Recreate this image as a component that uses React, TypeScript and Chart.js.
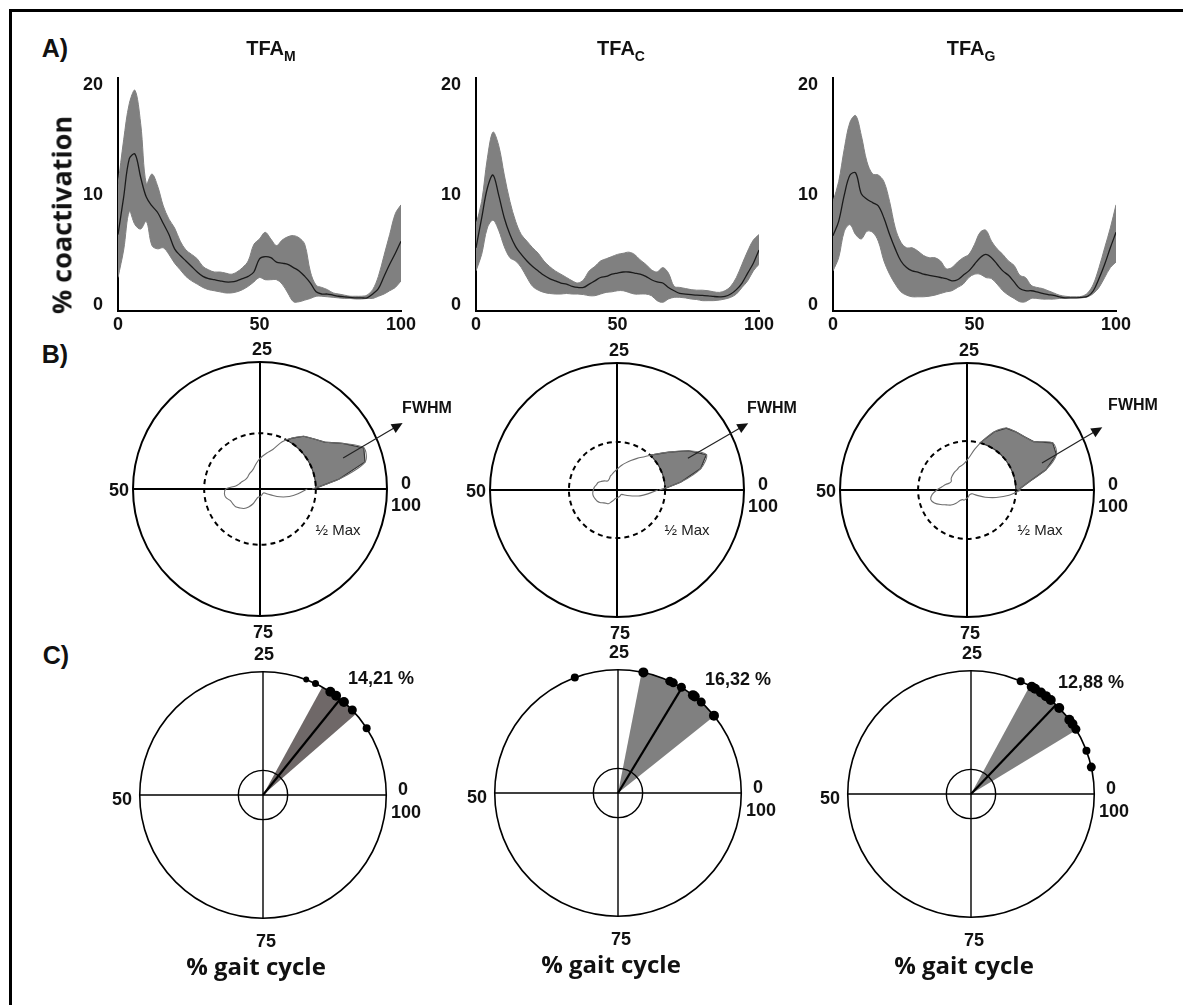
import React, { useEffect, useRef } from "react";
import { Chart, registerables } from "chart.js";

Chart.register(...registerables);

// ---------------- DATA ----------------
// % gait cycle sampling grid
const PCT = [0, 2, 4, 6, 8, 10, 12, 14, 16, 18, 20, 22, 24, 26, 28, 30, 32, 34, 36, 38, 40, 42, 44, 46, 48, 50,
  52, 54, 56, 58, 60, 62, 64, 66, 68, 70, 72, 74, 76, 78, 80, 82, 84, 86, 88, 90, 92, 94, 96, 98, 100];

// TFA_M  (% coactivation)
const MEAN_M = [6.4, 9.8, 13.3, 13.7, 11.6, 9.8, 9.0, 8.4, 7.4, 6.4, 5.1, 4.5, 4.0, 3.5, 3.0, 2.6, 2.4, 2.3, 2.2, 2.1, 2.1,
  2.2, 2.4, 2.6, 3.0, 4.2, 4.4, 4.3, 3.9, 3.8, 3.7, 3.4, 3.1, 2.6, 2.0, 1.2, 1.0, 1.0, 0.9, 0.8, 0.75, 0.7, 0.65, 0.65,
  0.66, 1.0, 1.5, 2.6, 3.7, 4.7, 5.8];
const UPPER_M = [10.9, 15.0, 18.3, 19.5, 16.5, 11.0, 11.9, 10.8, 9.0, 7.8, 7.0, 5.8, 5.0, 4.6, 4.2, 3.5, 3.2, 3.0, 3.0, 2.9,
  2.8, 3.0, 3.4, 4.0, 5.5, 6.0, 6.6, 6.0, 5.4, 5.9, 6.2, 6.3, 6.1, 5.5, 3.0, 1.8, 1.6, 1.4, 1.1, 1.0, 0.9, 0.8, 0.8, 0.8,
  0.9, 1.4, 2.6, 4.5, 6.4, 8.3, 9.1];
const LOWER_M = [2.5, 5.0, 8.5, 7.3, 6.9, 7.6, 5.4, 5.1, 5.2, 4.6, 3.8, 3.2, 2.6, 2.2, 1.9, 1.6, 1.4, 1.3, 1.2, 1.1, 1.1,
  1.2, 1.4, 1.7, 2.1, 2.5, 2.3, 2.3, 2.3, 1.9, 1.1, 0.3, 0.3, 0.45, 0.6, 0.8, 0.8, 0.75, 0.7, 0.65, 0.6, 0.6, 0.55, 0.55,
  0.6, 0.6, 0.8, 1.0, 1.3, 1.6, 2.2];

// TFA_C
const MEAN_C = [5.2, 7.9, 10.6, 11.8, 10.0, 7.9, 6.4, 5.3, 4.6, 4.0, 3.5, 3.1, 2.7, 2.4, 2.2, 2.0, 1.9, 1.7, 1.6, 1.6, 1.9,
  2.2, 2.5, 2.6, 2.8, 2.9, 3.0, 3.0, 2.9, 2.8, 2.6, 2.3, 2.1, 2.0, 1.6, 1.3, 1.05, 1.0, 0.95, 0.9, 0.87, 0.84, 0.78, 0.75,
  0.78, 1.0, 1.4, 2.0, 2.9, 3.8, 5.0];
const UPPER_C = [7.3, 9.4, 13.3, 15.7, 14.5, 11.8, 9.4, 7.6, 6.4, 5.8, 5.2, 4.7, 4.0, 3.5, 3.1, 2.8, 2.5, 2.2, 2.0, 2.3, 3.1,
  3.5, 4.0, 4.2, 4.4, 4.6, 4.7, 4.8, 4.6, 4.1, 3.7, 3.2, 3.0, 3.4, 2.9, 1.7, 1.6, 1.5, 1.4, 1.35, 1.35, 1.3, 1.2, 1.15,
  1.3, 1.7, 2.5, 3.7, 4.9, 5.9, 6.4];
const LOWER_C = [3.1, 4.6, 7.0, 7.7, 6.8, 5.3, 4.3, 4.0, 3.4, 2.5, 1.7, 1.35, 1.15, 1.05, 1.0, 1.0, 1.05, 1.0, 1.0, 0.95,
  0.85, 0.85, 1.0, 1.15, 1.2, 1.3, 1.3, 1.15, 1.0, 1.0, 1.0, 0.85, 0.4, 0.25, 0.55, 0.7, 0.7, 0.65, 0.55, 0.5, 0.4, 0.4,
  0.4, 0.45, 0.55, 0.7, 1.0, 1.6, 2.2, 3.1, 3.7];

// TFA_G
const MEAN_G = [6.3, 7.6, 10.0, 11.8, 12.0, 10.1, 9.6, 9.3, 9.0, 7.9, 6.4, 5.1, 4.0, 3.4, 3.1, 3.0, 2.8, 2.7, 2.6, 2.5, 2.4,
  2.2, 2.3, 2.7, 3.1, 3.7, 4.3, 4.6, 4.3, 3.7, 3.1, 2.7, 2.1, 1.5, 1.3, 1.3, 1.2, 1.05, 0.95, 0.87, 0.75, 0.66, 0.66, 0.66,
  0.7, 0.8, 1.3, 2.4, 3.7, 5.2, 6.6];
const UPPER_G = [9.4, 11.2, 14.2, 16.6, 17.2, 15.4, 13.0, 11.9, 11.8, 11.2, 9.4, 7.0, 5.7, 5.2, 5.2, 4.9, 4.5, 4.3, 4.3, 4.0,
  3.3, 3.4, 3.9, 4.3, 4.6, 5.5, 6.6, 6.8, 5.8, 5.1, 4.6, 4.0, 3.6, 2.7, 2.5, 1.8, 1.6, 1.5, 1.3, 1.1, 0.9, 0.8, 0.75, 0.75,
  0.8, 1.1, 1.9, 3.4, 5.2, 7.0, 9.1];
const LOWER_G = [3.1, 4.3, 6.7, 7.3, 6.4, 6.0, 6.7, 6.6, 5.8, 4.0, 2.8, 1.9, 1.2, 0.9, 0.75, 0.75, 0.75, 0.8, 0.9, 1.05, 1.2,
  1.3, 1.6, 1.9, 2.5, 2.8, 2.8, 2.5, 2.4, 1.9, 1.3, 0.9, 0.6, 0.3, 0.3, 0.6, 0.6, 0.54, 0.54, 0.54, 0.6, 0.6, 0.66, 0.66,
  0.66, 0.75, 1.05, 1.6, 2.5, 3.4, 3.9];

const Y_TICKS = [0, 10, 20];
const X_TICKS = [0, 50, 100];
const PANEL_SUBSCRIPTS = ["M", "C", "G"];
const POLAR_TICK_LABELS = ["25", "50", "75", "0", "100"];

// Row C: mean direction (% gait cycle), its spread, and individual peak timings
const MEAN_DIRECTION = [14.21, 16.32, 12.88];
const MEAN_DIRECTION_LABELS = ["14,21 %", "16,32 %", "12,88 %"];
const SPREAD = [2.8, 5.6, 4.2];
const EVENTS_M = [19.3, 18.0, 15.8, 14.9, 13.6, 12.1, 9.1];
const EVENT_SIZE_M = [3, 3.5, 5, 5, 5, 4.5, 4];
const EVENTS_C = [30.7, 21.7, 18.1, 17.6, 16.4, 14.6, 14.3, 13.2, 10.8];
const EVENT_SIZE_C = [4, 5, 4.5, 4.5, 4.5, 5, 5, 4.5, 5];
const EVENTS_G = [18.4, 16.8, 16.3, 15.4, 14.6, 13.8, 12.3, 10.3, 9.6, 8.8, 5.7, 3.5];
const EVENT_SIZE_G = [4, 5, 5, 5, 5, 5, 5, 5, 5, 4.5, 4, 4.5];

const MEANS = [MEAN_M, MEAN_C, MEAN_G];
const UPPERS = [UPPER_M, UPPER_C, UPPER_G];
const LOWERS = [LOWER_M, LOWER_C, LOWER_G];
const EVENTS = [EVENTS_M, EVENTS_C, EVENTS_G];
const EVENT_SIZES = [EVENT_SIZE_M, EVENT_SIZE_C, EVENT_SIZE_G];

// ---------------- STYLE / LAYOUT ----------------
const ARIAL = "'Liberation Sans', Arial, sans-serif";
const OPEN = "'Open Sans', sans-serif";
const BAND = "#808080";
const WEDGE_COLORS = ["#6f6868", "#808080", "#808080"];

const PLOT_LEFTS = [118, 476, 833];
const PLOT_W = 283;
const PLOT_TOP = 75;
const PLOT_BOTTOM = 311;
const Y_MIN = -0.54;
const Y_MAX = 20.63;
const YW = 48, XH = 30, PT = 15, PR = 25;

const B_CENTERS = [[260, 489], [617, 490], [967, 490]];
const C_CENTERS = [[263, 795], [618, 793], [971, 794]];
const R_PX = 127; // outer circle radius, px
const HALF = 170; // half canvas size for polar panels
const B_PX_PER_UNIT = 8.15;
const B_OUTER = R_PX / B_PX_PER_UNIT;

const ARROWS = [
  { from: [10.2, 3.8], to: [17.5, 8.1] },
  { from: [8.7, 3.9], to: [16.1, 8.2] },
  { from: [9.2, 3.3], to: [16.6, 7.7] },
];

const rad = (p: number) => (p / 100) * 2 * Math.PI;

function halfMaxRegion(mean: number[], h: number) {
  let iMax = 0;
  mean.forEach((v, i) => { if (v > mean[iMax]) iMax = i; });
  let a = iMax, b = iMax;
  while (a > 0 && mean[a - 1] >= h) a--;
  while (b < mean.length - 1 && mean[b + 1] >= h) b++;
  let thS = PCT[a], thE = PCT[b];
  if (a > 0) {
    const t = (h - mean[a - 1]) / (mean[a] - mean[a - 1]);
    thS = PCT[a - 1] + t * (PCT[a] - PCT[a - 1]);
  }
  if (b < mean.length - 1) {
    const t = (mean[b] - h) / (mean[b] - mean[b + 1]);
    thE = PCT[b] + t * (PCT[b + 1] - PCT[b]);
  }
  const pts: [number, number][] = [[thS, h]];
  for (let i = a; i <= b; i++) pts.push([PCT[i], mean[i]]);
  pts.push([thE, h]);
  return { pts, thS, thE };
}

// ---------------- COMPONENTS ----------------
function LinePanel({ idx }: { idx: number }) {
  const ref = useRef<HTMLCanvasElement>(null);
  const W = YW + PLOT_W + PR;
  const H = PT + (PLOT_BOTTOM - PLOT_TOP) + XH;
  useEffect(() => {
    const pts = (arr: number[]) => arr.map((v, i) => ({ x: PCT[i], y: v }));
    const font = { family: ARIAL, size: 18, weight: "bold" as const };
    const chart = new Chart(ref.current!, {
      type: "line",
      data: {
        datasets: [
          { data: pts(UPPERS[idx]), borderColor: BAND, backgroundColor: BAND, borderWidth: 1, fill: "+1", pointRadius: 0, tension: 0.35, order: 2 },
          { data: pts(LOWERS[idx]), borderColor: BAND, backgroundColor: BAND, borderWidth: 1, fill: false, pointRadius: 0, tension: 0.35, order: 1 },
          { data: pts(MEANS[idx]), borderColor: "#1a1a1a", borderWidth: 1.3, fill: false, pointRadius: 0, tension: 0.35, order: 0 },
        ],
      },
      options: {
        animation: false,
        responsive: false,
        events: [],
        layout: { padding: { top: PT, right: PR, left: 0, bottom: 0 } },
        plugins: { legend: { display: false }, tooltip: { enabled: false } },
        scales: {
          x: {
            type: "linear", min: 0, max: 100,
            grid: { display: false },
            border: { display: true, color: "#000", width: 2 },
            ticks: { font, color: "#111", padding: -5, maxRotation: 0, autoSkip: false },
            afterBuildTicks: (s: any) => { s.ticks = X_TICKS.map((v) => ({ value: v })); },
            afterFit: (s: any) => { s.height = XH; },
          },
          y: {
            type: "linear", min: Y_MIN, max: Y_MAX,
            grid: { display: false },
            border: { display: true, color: "#000", width: 2 },
            ticks: { font, color: "#111", padding: 7, autoSkip: false },
            afterBuildTicks: (s: any) => { s.ticks = Y_TICKS.map((v) => ({ value: v })); },
            afterFit: (s: any) => { s.width = YW; },
          },
        },
      } as any,
    });
    return () => chart.destroy();
  }, [idx]);
  return (
    <canvas ref={ref} width={W} height={H}
      style={{ position: "absolute", left: PLOT_LEFTS[idx] - YW, top: PLOT_TOP - PT, width: W, height: H }} />
  );
}

function PolarCurvePanel({ idx }: { idx: number }) {
  const ref = useRef<HTMLCanvasElement>(null);
  const [cx0, cy0] = B_CENTERS[idx];
  useEffect(() => {
    const mean = MEANS[idx];
    const L = HALF / B_PX_PER_UNIT;
    const curve = PCT.map((p, k) => ({ x: mean[k] * Math.cos(rad(p)), y: mean[k] * Math.sin(rad(p)) }));
    const frame = {
      id: "polarFrameB",
      beforeDatasetsDraw(chart: any) {
        const { ctx } = chart;
        const sx = chart.scales.x, sy = chart.scales.y;
        const px = (v: number) => sx.getPixelForValue(v);
        const py = (v: number) => sy.getPixelForValue(v);
        const cx = px(0), cy = py(0);
        const k = px(1) - cx;
        const R = B_OUTER * k;
        ctx.save();
        ctx.strokeStyle = "#000";
        ctx.lineWidth = 2;
        ctx.beginPath(); ctx.arc(cx, cy, R, 0, 2 * Math.PI); ctx.stroke();
        ctx.beginPath();
        ctx.moveTo(cx - R, cy); ctx.lineTo(cx + R, cy);
        ctx.moveTo(cx, cy - R); ctx.lineTo(cx, cy + R);
        ctx.stroke();
        const h = Math.max(...mean) / 2;
        const reg = halfMaxRegion(mean, h);
        ctx.beginPath();
        reg.pts.forEach(([p, r], j) => {
          const X = px(r * Math.cos(rad(p))), Y = py(r * Math.sin(rad(p)));
          if (j === 0) ctx.moveTo(X, Y); else ctx.lineTo(X, Y);
        });
        ctx.arc(cx, cy, h * k, -rad(reg.thE), -rad(reg.thS), false);
        ctx.closePath();
        ctx.fillStyle = BAND;
        ctx.fill();
        ctx.strokeStyle = "#333";
        ctx.lineWidth = 1.2;
        ctx.stroke();
        ctx.setLineDash([5, 4]);
        ctx.lineWidth = 2;
        ctx.strokeStyle = "#000";
        ctx.beginPath(); ctx.arc(cx, cy, h * k, 0, 2 * Math.PI); ctx.stroke();
        ctx.restore();
      },
      afterDatasetsDraw(chart: any) {
        const { ctx } = chart;
        const sx = chart.scales.x, sy = chart.scales.y;
        const a = ARROWS[idx];
        const x0 = sx.getPixelForValue(a.from[0]), y0 = sy.getPixelForValue(a.from[1]);
        const x1 = sx.getPixelForValue(a.to[0]), y1 = sy.getPixelForValue(a.to[1]);
        const ang = Math.atan2(y1 - y0, x1 - x0);
        ctx.save();
        ctx.strokeStyle = "#222"; ctx.fillStyle = "#111"; ctx.lineWidth = 1.2;
        ctx.beginPath(); ctx.moveTo(x0, y0);
        ctx.lineTo(x1 - 8 * Math.cos(ang), y1 - 8 * Math.sin(ang)); ctx.stroke();
        ctx.beginPath();
        ctx.moveTo(x1, y1);
        ctx.lineTo(x1 - 11 * Math.cos(ang) + 5 * Math.sin(ang), y1 - 11 * Math.sin(ang) - 5 * Math.cos(ang));
        ctx.lineTo(x1 - 11 * Math.cos(ang) - 5 * Math.sin(ang), y1 - 11 * Math.sin(ang) + 5 * Math.cos(ang));
        ctx.closePath(); ctx.fill();
        ctx.restore();
      },
    };
    const chart = new Chart(ref.current!, {
      type: "scatter",
      data: {
        datasets: [
          { data: curve, showLine: true, borderColor: "#6e6e6e", borderWidth: 1.1, pointRadius: 0, tension: 0.3, fill: false },
        ],
      },
      options: {
        animation: false, responsive: false, events: [],
        layout: { padding: 0 },
        plugins: { legend: { display: false }, tooltip: { enabled: false } },
        scales: {
          x: { display: false, min: -L, max: L },
          y: { display: false, min: -L, max: L },
        },
      } as any,
      plugins: [frame],
    });
    return () => chart.destroy();
  }, [idx]);
  return (
    <canvas ref={ref} width={HALF * 2} height={HALF * 2}
      style={{ position: "absolute", left: cx0 - HALF, top: cy0 - HALF, width: HALF * 2, height: HALF * 2 }} />
  );
}

function PolarEventsPanel({ idx }: { idx: number }) {
  const ref = useRef<HTMLCanvasElement>(null);
  const [cx0, cy0] = C_CENTERS[idx];
  useEffect(() => {
    const L = HALF / R_PX;
    const m = MEAN_DIRECTION[idx];
    const s = SPREAD[idx];
    const frame = {
      id: "polarFrameC",
      beforeDatasetsDraw(chart: any) {
        const { ctx } = chart;
        const sx = chart.scales.x, sy = chart.scales.y;
        const cx = sx.getPixelForValue(0), cy = sy.getPixelForValue(0);
        const R = sx.getPixelForValue(1) - cx;
        ctx.save();
        ctx.beginPath();
        ctx.moveTo(cx, cy);
        ctx.arc(cx, cy, R, -rad(m + s), -rad(m - s), false);
        ctx.closePath();
        ctx.fillStyle = WEDGE_COLORS[idx];
        ctx.fill();
        ctx.strokeStyle = "#000";
        ctx.lineWidth = 1.6;
        ctx.beginPath(); ctx.arc(cx, cy, R, 0, 2 * Math.PI); ctx.stroke();
        ctx.lineWidth = 1.4;
        ctx.beginPath();
        ctx.moveTo(cx - R, cy); ctx.lineTo(cx + R, cy);
        ctx.moveTo(cx, cy - R); ctx.lineTo(cx, cy + R);
        ctx.stroke();
        ctx.beginPath(); ctx.arc(cx, cy, 0.2 * R, 0, 2 * Math.PI); ctx.stroke();
        ctx.restore();
      },
    };
    const chart = new Chart(ref.current!, {
      type: "scatter",
      data: {
        datasets: [
          {
            data: [{ x: 0, y: 0 }, { x: Math.cos(rad(m)), y: Math.sin(rad(m)) }],
            showLine: true, borderColor: "#000", borderWidth: 2.2, pointRadius: 0, fill: false,
          },
          {
            data: EVENTS[idx].map((p) => ({ x: Math.cos(rad(p)), y: Math.sin(rad(p)) })),
            showLine: false, pointRadius: EVENT_SIZES[idx], pointBackgroundColor: "#000",
            pointBorderColor: "#000", pointBorderWidth: 0,
          },
        ],
      },
      options: {
        animation: false, responsive: false, events: [],
        layout: { padding: 0 },
        plugins: { legend: { display: false }, tooltip: { enabled: false } },
        scales: {
          x: { display: false, min: -L, max: L },
          y: { display: false, min: -L, max: L },
        },
      } as any,
      plugins: [frame],
    });
    return () => chart.destroy();
  }, [idx]);
  return (
    <canvas ref={ref} width={HALF * 2} height={HALF * 2}
      style={{ position: "absolute", left: cx0 - HALF, top: cy0 - HALF, width: HALF * 2, height: HALF * 2 }} />
  );
}

function T({ x, y, children, size = 18, weight = 700, family = ARIAL, color = "#111", rotate = 0 }: any) {
  return (
    <div style={{
      position: "absolute", left: x, top: y,
      transform: `translate(-50%, -50%)${rotate ? ` rotate(${rotate}deg)` : ""}`,
      fontFamily: family, fontSize: size, fontWeight: weight, color,
      whiteSpace: "nowrap", lineHeight: 1.15,
    }}>{children}</div>
  );
}

const TITLE_X = [271, 621, 971];
const B_LABEL_OFF = [[2, -140], [-141, 1], [3, 143], [146, -6], [146, 16]];
const C_LABEL_OFF = [[1, -141], [-141, 4], [3, 146], [140, -6], [143, 17]];
const FWHM_OFF = [[167, -81], [155, -82], [166, -85]];
const HALFMAX_OFF = [[78, 41], [70, 40], [73, 40]];
const PCT_LABEL_OFF = [[118, -117], [120, -114], [120, -112]];

export default function App() {
  return (
    <div style={{ position: "absolute", left: 0, top: 0, width: 1183, height: 1005, overflow: "hidden", background: "#fff" }}>
      <div style={{ position: "absolute", left: 9, top: 9, width: 1300, height: 1100, borderTop: "3px solid #000", borderLeft: "3px solid #000" }} />

      {[0, 1, 2].map((i) => <LinePanel key={"a" + i} idx={i} />)}
      {[0, 1, 2].map((i) => <PolarCurvePanel key={"b" + i} idx={i} />)}
      {[0, 1, 2].map((i) => <PolarEventsPanel key={"c" + i} idx={i} />)}

      <T x={55} y={48} size={25}>A)</T>
      <T x={55} y={354} size={25}>B)</T>
      <T x={56} y={655} size={25}>C)</T>

      <T x={61} y={215} size={27} family={OPEN} rotate={-90}>% coactivation</T>

      {PANEL_SUBSCRIPTS.map((s, i) => (
        <T key={"t" + i} x={TITLE_X[i]} y={48} size={20}>
          TFA<span style={{ fontSize: 14, position: "relative", top: 6 }}>{s}</span>
        </T>
      ))}

      {B_CENTERS.map(([cx, cy], i) => (
        <React.Fragment key={"bl" + i}>
          {POLAR_TICK_LABELS.map((lab, j) => (
            <T key={j} x={cx + B_LABEL_OFF[j][0]} y={cy + B_LABEL_OFF[j][1]} size={18}>{lab}</T>
          ))}
          <T x={cx + FWHM_OFF[i][0]} y={cy + FWHM_OFF[i][1]} size={16}>FWHM</T>
          <T x={cx + HALFMAX_OFF[i][0]} y={cy + HALFMAX_OFF[i][1]} size={15} weight={400} color="#222">½ Max</T>
        </React.Fragment>
      ))}

      {C_CENTERS.map(([cx, cy], i) => (
        <React.Fragment key={"cl" + i}>
          {POLAR_TICK_LABELS.map((lab, j) => (
            <T key={j} x={cx + C_LABEL_OFF[j][0]} y={cy + C_LABEL_OFF[j][1]} size={18}>{lab}</T>
          ))}
          <T x={cx + PCT_LABEL_OFF[i][0]} y={cy + PCT_LABEL_OFF[i][1]} size={18}>{MEAN_DIRECTION_LABELS[i]}</T>
          <T x={cx - 7} y={cy + 171} size={24} family={OPEN}>% gait cycle</T>
        </React.Fragment>
      ))}
    </div>
  );
}
